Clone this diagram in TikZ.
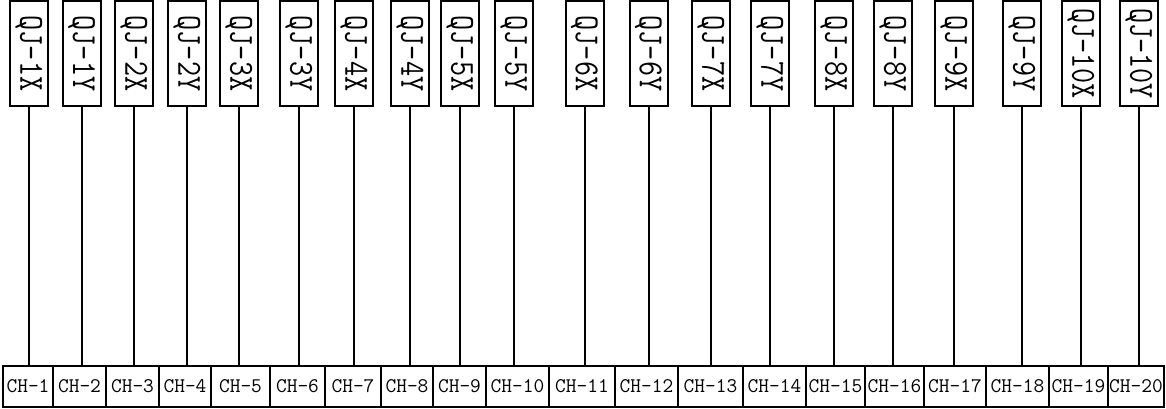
\documentclass[tikz,border=0pt]{standalone}
\usepackage{fontspec}
\usepackage{graphicx}
\newcommand{\qjtext}[1]{\scalebox{1}[1.2]{#1}}
\begin{document}
\begin{tikzpicture}[x=0.75pt,y=-0.75pt,
  qjbox/.style={draw, line width=1.5pt, rectangle, inner sep=0pt, rotate=-90,
    minimum width=78.75pt, minimum height=28.5pt,
    font=\ttfamily\fontsize{22}{24}\selectfont},
  chbox/.style={draw, line width=1.5pt, rectangle, inner sep=0pt,
    minimum height=30.75pt,
    font=\ttfamily\fontsize{15.6}{17}\selectfont},
  wire/.style={line width=1.5pt}]
\useasboundingbox (0,0) rectangle (1166,409);
\foreach \i/\l/\r in {1/3/53, 2/53/106, 3/106/159, 4/159/211, 5/211/270,
  6/270/325, 7/325/381, 8/381/433, 9/433/486, 10/486/549, 11/549/615,
  12/615/678, 13/678/743, 14/743/806, 15/806/865, 16/865/924, 17/924/986,
  18/986/1049, 19/1049/1108, 20/1108/1164}{
  \pgfmathsetmacro\w{(\r-\l)*0.75}
  \pgfmathsetmacro\c{(\l+\r)/2}
  \node[chbox, minimum width=\w pt] (b\i) at (\c,386.5) {CH-\i};
}
\foreach \i/\c/\t in {1/29/QJ-1X, 2/81.6/QJ-1Y, 3/134/QJ-2X, 4/187/QJ-2Y,
  5/239/QJ-3X, 6/299/QJ-3Y, 7/354/QJ-4X, 8/410/QJ-4Y, 9/460/QJ-5X,
  10/514/QJ-5Y, 11/584.5/QJ-6X, 12/648.5/QJ-6Y, 13/711/QJ-7X,
  14/770/QJ-7Y, 15/834/QJ-8X, 16/893/QJ-8Y, 17/954/QJ-9X, 18/1022/QJ-9Y,
  19/1081/QJ-10X, 20/1139/QJ-10Y}{
  \node[qjbox] (t\i) at (\c,53.5) {\qjtext{\t}};
  \draw[wire] (t\i.east) -- (t\i.east |- b\i.north);
}
\end{tikzpicture}
\end{document}
